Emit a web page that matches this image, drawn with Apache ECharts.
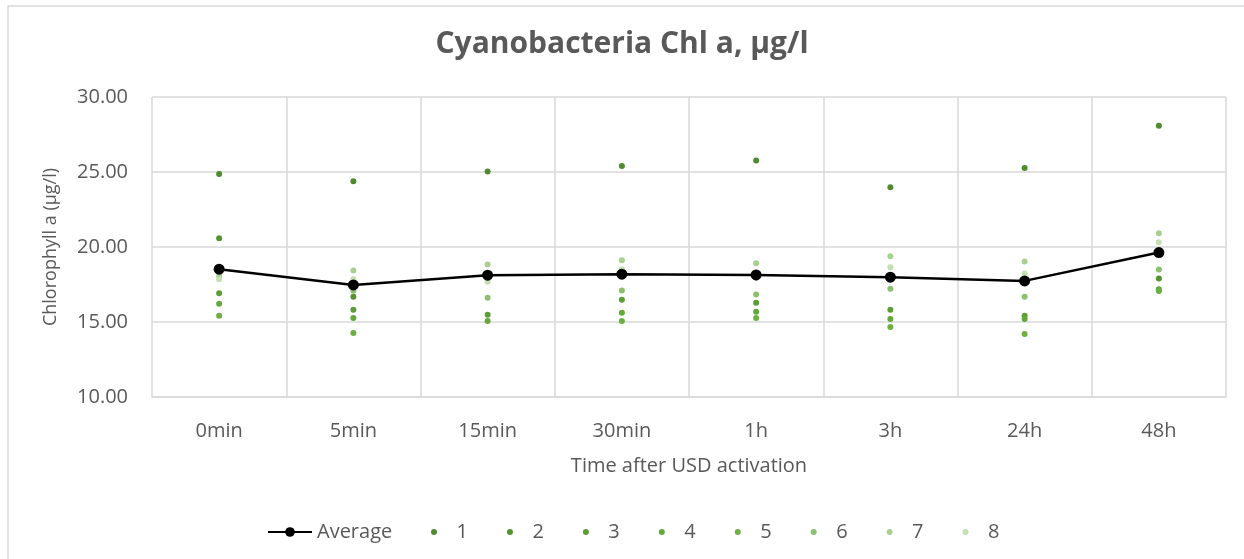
<!DOCTYPE html>
<html>
<head>
<meta charset="utf-8">
<script src="https://cdn.jsdelivr.net/npm/echarts@6/dist/echarts.min.js"></script>
<style>
  html, body { margin: 0; padding: 0; background: #fff; }
  #chart { width: 1244px; height: 559px; }
</style>
</head>
<body>
<div id="chart"></div>
<script>
const timePoints = ["0min", "5min", "15min", "30min", "1h", "3h", "24h", "48h"];
const yTicks = [10, 15, 20, 25, 30];

const average = [18.52, 17.47, 18.12, 18.19, 18.14, 17.99, 17.74, 19.63];
const rep1 = [24.87, 24.38, 25.04, 25.40, 25.77, 23.98, 25.27, 28.08];
const rep2 = [20.58, 16.68, 18.15, 18.10, 17.97, 18.10, 17.89, 17.90];
const rep3 = [16.91, 15.82, 15.49, 16.48, 16.28, 15.82, 15.42, 17.19];
const rep4 = [16.22, 15.27, 15.07, 15.62, 15.69, 15.20, 15.20, 17.06];
const rep5 = [15.42, 14.27, 18.08, 15.07, 15.27, 14.67, 14.20, 17.12];
const rep6 = [18.30, 17.08, 16.62, 17.10, 16.84, 17.21, 16.68, 18.50];
const rep7 = [18.05, 18.43, 18.83, 19.12, 18.92, 19.38, 19.03, 20.91];
const rep8 = [17.85, 17.86, 17.68, 18.52, 18.30, 18.65, 18.23, 20.31];

const reps = [rep1, rep2, rep3, rep4, rep5, rep6, rep7, rep8];
const repColors = ["#4f8a2f", "#55932f", "#5c9d35", "#63a83a", "#6cb041", "#8dbf70", "#a9d08f", "#c4e0b2"];

const ink = "#595959";
const grid = "#d9d9d9";
const font = "'Open Sans', Lato, sans-serif";

const chart = echarts.init(document.getElementById("chart"), null, { renderer: "canvas" });

const repSeries = reps.map((values, i) => ({
  name: String(i + 1),
  type: "scatter",
  data: values,
  symbol: "circle",
  symbolSize: 6,
  itemStyle: { color: repColors[i], opacity: 1 },
  z: 2,
  silent: true,
}));

chart.setOption({
  animation: false,
  backgroundColor: "#fff",
  textStyle: { fontFamily: font, color: ink },
  title: {
    text: "Cyanobacteria Chl a, µg/l",
    left: "center",
    top: 24,
    textStyle: { fontFamily: font, fontSize: 30, fontWeight: "bold", color: ink },
  },
  graphic: [{
    type: "rect",
    shape: { x: 8, y: 6, width: 1300, height: 700 },
    style: { fill: "none", stroke: grid, lineWidth: 1.5 },
    silent: true,
    z: -10,
  }],
  grid: { left: 152, right: 18, top: 97, bottom: 162 },
  legend: [
    {
      data: ["Average"],
      left: 262,
      top: 517,
      itemWidth: 44,
      itemHeight: 12,
      itemGap: 0,
      textStyle: { fontFamily: font, fontSize: 20, color: ink },
    },
    {
      data: ["1", "2", "3", "4", "5", "6", "7", "8"],
      left: 426,
      top: 517,
      itemWidth: 7,
      itemHeight: 6,
      itemGap: 39,
      textStyle: { fontFamily: font, fontSize: 20, color: ink, padding: [0, 0, 0, 14] },
    },
  ],
  xAxis: {
    type: "category",
    data: timePoints,
    boundaryGap: true,
    name: "Time after USD activation",
    nameLocation: "middle",
    nameGap: 59,
    nameTextStyle: { fontFamily: font, fontSize: 20, color: ink },
    axisLine: { show: true, lineStyle: { color: grid, width: 1.5 } },
    axisTick: { show: false },
    axisLabel: { fontFamily: font, fontSize: 20, color: ink, margin: 24 },
    splitLine: { show: true, lineStyle: { color: grid, width: 1.5 } },
  },
  yAxis: {
    type: "value",
    min: yTicks[0],
    max: yTicks[yTicks.length - 1],
    interval: 5,
    name: "Chlorophyll a (µg/l)",
    nameLocation: "middle",
    nameGap: 92,
    nameTextStyle: { fontFamily: font, fontSize: 18, color: ink },
    axisLine: { show: false },
    axisTick: { show: false },
    axisLabel: {
      fontFamily: font,
      fontSize: 20,
      color: ink,
      margin: 24,
      formatter: (v) => v.toFixed(2),
    },
    splitLine: { show: true, lineStyle: { color: grid, width: 1.5 } },
  },
  series: [
    {
      name: "Average",
      type: "line",
      data: average,
      symbol: "circle",
      symbolSize: 11,
      lineStyle: { color: "#000", width: 2.5 },
      itemStyle: { color: "#000" },
      z: 5,
      silent: true,
    },
    ...repSeries,
  ],
});
</script>
</body>
</html>
